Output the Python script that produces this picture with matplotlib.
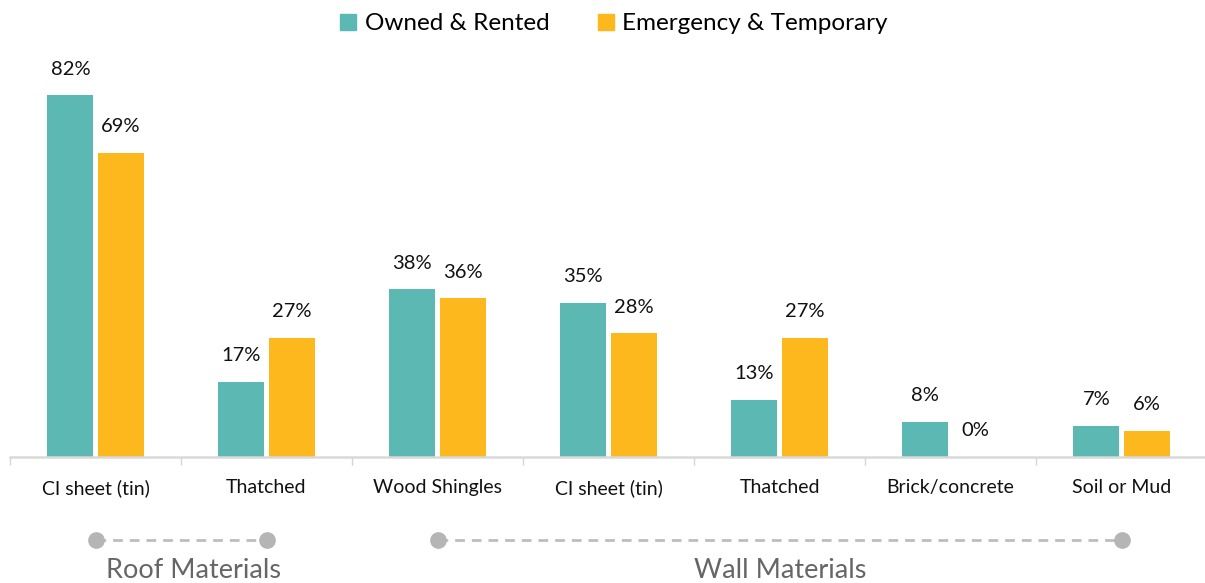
import matplotlib
matplotlib.use("Agg")
import matplotlib.pyplot as plt
from matplotlib.patches import Patch
import numpy as np

categories = ["CI sheet (tin)", "Thatched", "Wood Shingles", "CI sheet (tin)",
              "Thatched", "Brick/concrete", "Soil or Mud"]
owned = [82, 17, 38, 35, 13, 8, 7]
emergency = [69, 27, 36, 28, 27, 0, 6]
series_names = ["Owned & Rented", "Emergency & Temporary"]
group_labels = ["Roof Materials", "Wall Materials"]

plt.rcParams['font.family'] = ['Lato', 'DejaVu Sans']

TEAL = "#5BB8B3"
YELLOW = "#FDB81E"

W, H = 1205, 583
fig = plt.figure(figsize=(W / 100, H / 100), dpi=100)
ax = fig.add_axes([10 / W, 126 / H, 1197 / W, 397 / H])

x = np.arange(len(categories))
bw = 0.27
gap = 0.012
b1 = ax.bar(x - bw / 2 - gap, owned, bw, color=TEAL)
b2 = ax.bar(x + bw / 2 + gap, emergency, bw, color=YELLOW)

for bars, vals in ((b1, owned), (b2, emergency)):
    for b, v in zip(bars, vals):
        ax.text(b.get_x() + b.get_width() / 2, v + 4.0, f"{v}%",
                ha="center", va="bottom", fontsize=14.5, color="#111111")

ax.set_xlim(-0.5, len(categories) - 0.5)
ax.set_ylim(0, 90)
ax.set_yticks([])
for s in ("top", "right", "left"):
    ax.spines[s].set_visible(False)
ax.spines["bottom"].set_color("#d9d9d9")
ax.spines["bottom"].set_linewidth(1.8)

ax.set_xticks(np.arange(-0.5, len(categories) + 0.5, 1.0), minor=False)
ax.set_xticklabels([])
ax.tick_params(axis="x", which="major", length=6, width=1.0, color="#d5d5d5")
ax.set_xticks(x, minor=True)
ax.set_xticklabels(categories, minor=True, fontsize=14, color="#111111")
ax.tick_params(axis="x", which="minor", length=0, pad=16)

# group brackets
def px2x(px):
    return (px - 10) / 171.0 - 0.5

ybr = -18.8
for (a, b) in ((0, 1), (2, 6)):
    ax.plot([a, b], [ybr, ybr], ls=(0, (3.5, 2.5)), color="#bdbdbd", lw=2,
            clip_on=False)
    ax.plot([a, b], [ybr, ybr], ls="none", marker="o", ms=11,
            color="#b5b5b5", clip_on=False)
ax.text(px2x(193), -25.8, group_labels[0], ha="center", va="center",
        fontsize=19.5, color="#666666", clip_on=False)
ax.text(px2x(780), -25.8, group_labels[1], ha="center", va="center",
        fontsize=19.5, color="#666666", clip_on=False)

handles = [Patch(color=TEAL), Patch(color=YELLOW)]
fig.legend(handles, series_names, loc="center", bbox_to_anchor=(614 / W, 1 - 24 / H),
           ncol=2, frameon=False, fontsize=17.5, handlelength=0.65, handleheight=0.65,
           handletextpad=0.35, columnspacing=2.0)

fig.savefig("out.png", dpi=100)
